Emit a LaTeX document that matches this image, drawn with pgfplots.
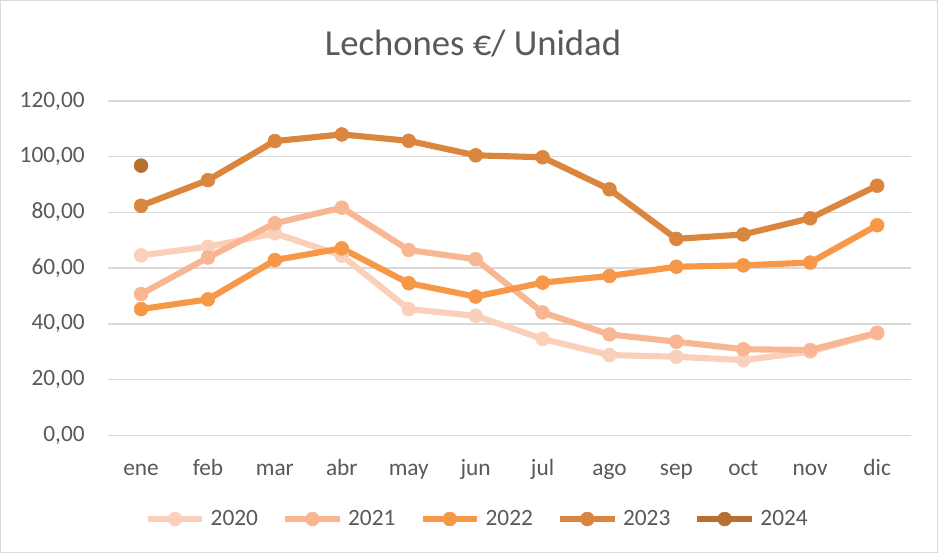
\documentclass[border=0pt]{standalone}
\usepackage{fontspec}
\setmainfont{Carlito}
\usepackage{pgfplots}
\pgfplotsset{compat=1.18}
\definecolor{cA}{RGB}{251,208,186}
\definecolor{cB}{RGB}{248,183,146}
\definecolor{cC}{RGB}{247,151,72}
\definecolor{cD}{RGB}{219,134,62}
\definecolor{cE}{RGB}{184,112,50}
\definecolor{gridc}{RGB}{217,217,217}
\definecolor{txt}{RGB}{89,89,89}
\begin{document}
\begin{tikzpicture}
\draw[color=gridc, line width=0.75pt, fill=white] (0.375pt,0.375pt) rectangle (703.125pt,414.375pt);
\begin{axis}[
  at={(80.7pt,88.275pt)}, anchor=south west,
  scale only axis, width=602.25pt, height=250.725pt,
  xmin=-0.5, xmax=11.5, ymin=0, ymax=120,
  xtick={0,...,11},
  xticklabels={ene,feb,mar,abr,may,jun,jul,ago,sep,oct,nov,dic},
  ytick={0,20,...,120},
  axis line style={draw=none},
  major tick length=0pt,
  ymajorgrids, xmajorgrids=false,
  major grid style={color=gridc, line width=1.1pt},
  tick label style={font=\fontsize{17.5}{20}\selectfont, color=txt, inner sep=0pt},
  xticklabel style={anchor=base, yshift=-30pt},
  yticklabel style={xshift=-17pt},
  /pgf/number format/.cd, use comma, fixed, fixed zerofill, precision=2, 1000 sep={}, assume math mode=true,
  /pgfplots/.cd,
  legend columns=5,
  legend style={at={(0.459,-0.2504)}, anchor=center, draw=none, fill=none,
    font=\fontsize{17.5}{20}\selectfont, text=txt, inner sep=0pt,
    /tikz/every odd column/.append style={column sep=4pt},
    /tikz/every even column/.append style={column sep=18pt},
    nodes={inner xsep=0pt, inner ysep=0pt}},
  legend image code/.code={\draw[mark repeat=2,mark phase=2] plot coordinates {(0pt,0pt) (20.5pt,0pt) (41pt,0pt)};},
  every axis plot/.append style={line width=4.6pt, mark=*, mark size=5.2pt},
  clip=false,
]
\addplot[color=cA, mark options={fill=cA, draw=cA, line width=0.4pt}] coordinates {
 (0,64.6) (1,67.7) (2,72.5) (3,64.5) (4,45.3) (5,42.9) (6,34.6) (7,28.8) (8,28.2) (9,27.0) (10,30.0) (11,36.6)};
\addlegendentry{2020}
\addplot[color=cB, mark options={fill=cB, draw=cB, line width=0.4pt}] coordinates {
 (0,50.7) (1,63.8) (2,76.1) (3,81.7) (4,66.5) (5,63.2) (6,44.1) (7,36.2) (8,33.6) (9,30.9) (10,30.6) (11,36.8)};
\addlegendentry{2021}
\addplot[color=cC, mark options={fill=cC, draw=cC, line width=0.4pt}] coordinates {
 (0,45.3) (1,48.8) (2,62.9) (3,67.1) (4,54.6) (5,49.8) (6,54.8) (7,57.2) (8,60.5) (9,61.0) (10,62.0) (11,75.4)};
\addlegendentry{2022}
\addplot[color=cD, mark options={fill=cD, draw=cD, line width=0.4pt}] coordinates {
 (0,82.4) (1,91.6) (2,105.6) (3,108.0) (4,105.7) (5,100.5) (6,99.8) (7,88.3) (8,70.5) (9,72.1) (10,77.9) (11,89.6)};
\addlegendentry{2023}
\addplot[color=cE, mark options={fill=cE, draw=cE, line width=0.4pt}] coordinates {
 (0,96.8)};
\addlegendentry{2024}
\end{axis}
\node[anchor=base, font=\fontsize{27.5}{31}\selectfont, text=txt, inner sep=0pt] at (354.75pt,372.75pt) {Lechones €/ Unidad};
\end{tikzpicture}
\end{document}
